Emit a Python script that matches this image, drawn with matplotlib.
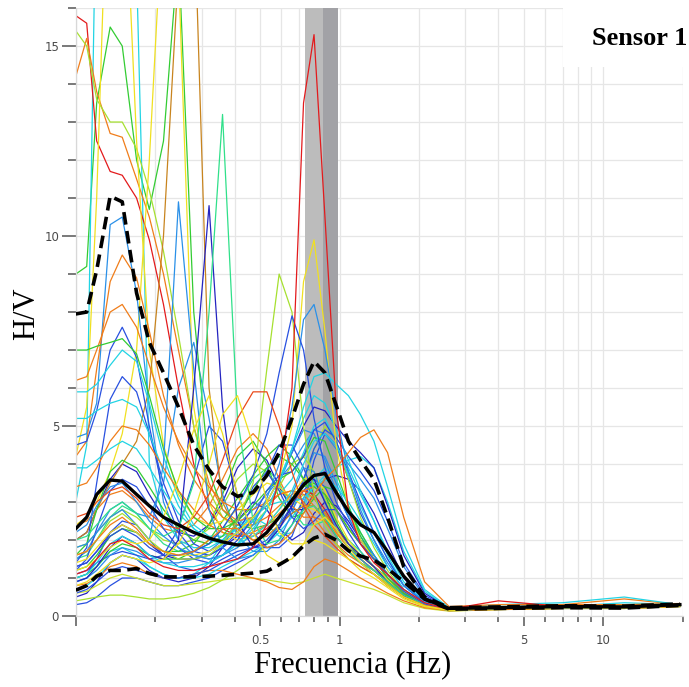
import matplotlib
matplotlib.use("Agg")

import matplotlib.pyplot as plt
from matplotlib.patches import Rectangle
from matplotlib.ticker import FixedLocator, FixedFormatter, NullFormatter

# frequency samples shared by every curve (Hz)
freq_hz = [0.10, 0.11, 0.12, 0.135, 0.15, 0.17, 0.19, 0.215, 0.245, 0.28,
           0.32, 0.36, 0.41, 0.47, 0.53, 0.59, 0.66, 0.73, 0.80, 0.88,
           0.97, 1.08, 1.2, 1.35, 1.52, 1.75, 2.1, 2.6, 4.0, 7.0, 12.0, 19.5]

# average H/V and the +/- one standard deviation curves
hv_mean = [2.3, 2.6, 3.2, 3.58, 3.55, 3.2, 2.9, 2.6, 2.4, 2.2, 2.05, 1.95, 1.87, 1.9, 2.2, 2.6,
           3.05, 3.45, 3.7, 3.75, 3.25, 2.75, 2.4, 2.2, 1.7, 1.05, 0.45, 0.2, 0.22, 0.25, 0.24, 0.3]
hv_upper = [7.95, 8.0, 9.1, 11.05, 10.9, 8.5, 7.2, 6.4, 5.5, 4.5, 3.85, 3.4, 3.15, 3.25, 3.7, 4.3,
            5.2, 6.1, 6.7, 6.4, 5.55, 4.6, 4.1, 3.6, 2.6, 1.3, 0.5, 0.22, 0.24, 0.27, 0.26, 0.32]
hv_lower = [0.68, 0.8, 1.05, 1.2, 1.2, 1.25, 1.12, 1.03, 1.03, 1.03, 1.05, 1.07, 1.1, 1.13, 1.18, 1.35,
            1.55, 1.85, 2.05, 2.15, 2.0, 1.72, 1.58, 1.47, 1.25, 0.9, 0.45, 0.18, 0.2, 0.22, 0.21, 0.28]

# peak frequency band (f0 -/+ sigma)
f0_band_low = [0.737, 0.862]
f0_band_high = [0.862, 0.99]

# individual time windows, low-frequency peaks near 0.13-0.15 Hz
low_windows = [
    [9.0, 9.2, 13.5, 15.5, 15.0, 12.0, 10.7, 12.5, 17.5, 8.0, 3.8, 2.8, 2.4, 2.3, 2.4, 2.6, 3.0, 3.4, 3.5, 3.2, 2.5, 1.9, 1.5, 1.2, 0.9, 0.55, 0.3, 0.17, 0.22, 0.24, 0.24, 0.29],
    [3.0, 4.5, 20.0, 26.0, 25.0, 17.0, 4.0, 2.6, 2.0, 1.8, 1.8, 2.0, 2.3, 2.6, 2.9, 3.2, 3.6, 4.3, 5.0, 5.2, 4.6, 3.7, 2.9, 2.2, 1.5, 0.8, 0.35, 0.18, 0.22, 0.25, 0.25, 0.3],
    [15.8, 15.6, 12.5, 11.7, 11.6, 11.0, 9.9, 8.2, 6.0, 4.0, 2.8, 2.3, 2.1, 2.1, 2.3, 2.6, 3.0, 3.3, 3.2, 2.8, 2.3, 1.9, 1.6, 1.3, 1.0, 0.6, 0.3, 0.18, 0.22, 0.24, 0.23, 0.28],
    [14.2, 15.2, 13.8, 12.7, 12.6, 11.5, 10.5, 9.0, 7.0, 5.0, 3.5, 2.8, 2.5, 2.6, 2.9, 3.2, 3.3, 3.0, 2.6, 2.2, 1.9, 1.6, 1.4, 1.2, 0.9, 0.55, 0.3, 0.17, 0.22, 0.3, 0.45, 0.3],
    [15.4, 15.0, 13.6, 13.0, 13.0, 12.3, 11.2, 9.6, 7.4, 5.0, 3.3, 2.6, 2.3, 2.4, 2.8, 3.4, 4.0, 4.2, 3.8, 3.1, 2.4, 1.9, 1.6, 1.3, 1.0, 0.6, 0.3, 0.17, 0.21, 0.23, 0.23, 0.28],
    [4.2, 5.5, 11.0, 22.0, 21.0, 12.5, 7.0, 4.5, 3.2, 2.6, 2.4, 2.5, 2.8, 3.2, 3.5, 3.4, 3.1, 2.9, 2.8, 2.6, 2.2, 1.8, 1.5, 1.2, 0.9, 0.55, 0.3, 0.17, 0.22, 0.25, 0.26, 0.3],
    [2.4, 2.6, 3.0, 3.8, 4.8, 7.0, 12.0, 19.0, 17.0, 5.5, 3.0, 2.2, 2.0, 2.1, 2.4, 2.8, 3.2, 3.6, 3.7, 3.3, 2.6, 2.0, 1.6, 1.3, 0.95, 0.55, 0.3, 0.17, 0.22, 0.24, 0.24, 0.29],
    [2.0, 2.2, 2.8, 3.5, 4.0, 4.6, 6.0, 10.0, 17.0, 19.0, 6.0, 3.0, 2.2, 2.0, 2.1, 2.4, 2.7, 2.9, 2.9, 2.6, 2.1, 1.7, 1.4, 1.1, 0.85, 0.5, 0.28, 0.16, 0.21, 0.23, 0.23, 0.28],
    [4.7, 4.8, 5.6, 10.3, 10.5, 8.5, 5.5, 3.0, 2.0, 1.6, 1.5, 1.6, 1.8, 2.2, 2.8, 3.5, 4.3, 4.9, 4.8, 4.1, 3.3, 2.6, 2.0, 1.6, 1.1, 0.6, 0.3, 0.16, 0.2, 0.22, 0.22, 0.27],
    [4.2, 4.6, 6.5, 8.8, 9.5, 8.9, 7.5, 5.8, 4.5, 3.6, 3.0, 2.6, 2.4, 2.4, 2.6, 2.9, 3.2, 3.3, 3.1, 2.7, 2.2, 1.8, 1.5, 1.2, 0.9, 0.55, 0.3, 0.17, 0.22, 0.24, 0.24, 0.29],
    [6.2, 6.3, 7.0, 8.0, 8.2, 7.6, 6.6, 5.5, 4.6, 3.9, 3.4, 3.0, 2.8, 2.8, 3.0, 3.2, 3.3, 3.2, 2.9, 2.5, 2.1, 1.7, 1.4, 1.2, 0.9, 0.55, 0.3, 0.17, 0.21, 0.24, 0.24, 0.3],
    [4.5, 4.6, 5.4, 7.0, 7.6, 6.8, 5.0, 3.2, 2.2, 1.7, 1.6, 1.8, 2.2, 2.9, 3.8, 4.5, 4.5, 3.9, 3.2, 2.6, 2.1, 1.7, 1.4, 1.1, 0.8, 0.5, 0.27, 0.15, 0.2, 0.22, 0.22, 0.27],
    [7.0, 7.0, 7.1, 7.2, 7.3, 6.9, 5.8, 4.4, 3.3, 2.6, 2.3, 2.3, 2.5, 2.9, 3.3, 3.6, 3.8, 4.2, 4.7, 4.6, 3.8, 2.9, 2.1, 1.5, 1.0, 0.6, 0.3, 0.17, 0.21, 0.23, 0.24, 0.28],
    [5.9, 5.9, 6.1, 6.6, 7.0, 6.7, 5.6, 4.2, 3.1, 2.4, 2.1, 2.1, 2.3, 2.6, 2.9, 3.0, 3.0, 3.1, 3.4, 3.6, 3.4, 3.0, 2.5, 1.9, 1.3, 0.7, 0.33, 0.18, 0.22, 0.25, 0.35, 0.3],
    [1.4, 1.8, 3.5, 5.7, 6.3, 5.9, 4.8, 3.5, 2.5, 1.9, 1.7, 1.9, 2.5, 3.4, 3.8, 3.3, 2.6, 2.3, 2.5, 2.8, 2.8, 2.4, 1.9, 1.5, 1.1, 0.6, 0.3, 0.16, 0.2, 0.22, 0.22, 0.27],
    [5.2, 5.2, 5.4, 5.6, 5.7, 5.5, 4.8, 3.8, 2.9, 2.3, 2.0, 2.0, 2.2, 2.5, 3.0, 3.6, 4.4, 5.2, 5.8, 5.6, 4.9, 4.1, 3.3, 2.5, 1.6, 0.8, 0.35, 0.18, 0.22, 0.24, 0.24, 0.29],
    [3.4, 3.5, 3.9, 4.6, 5.0, 4.9, 4.5, 3.9, 3.3, 2.8, 2.4, 2.2, 2.1, 2.2, 2.4, 2.7, 3.0, 3.3, 3.4, 3.2, 2.8, 2.3, 1.9, 1.5, 1.1, 0.6, 0.3, 0.17, 0.22, 0.24, 0.24, 0.29],
    [1.6, 1.9, 2.8, 3.8, 4.1, 3.9, 3.4, 2.8, 2.3, 2.0, 1.9, 2.1, 2.6, 3.3, 3.9, 4.2, 4.0, 3.6, 3.4, 3.2, 2.8, 2.3, 1.9, 1.5, 1.1, 0.6, 0.3, 0.16, 0.2, 0.22, 0.22, 0.27],
    [1.2, 1.5, 2.3, 3.3, 3.6, 3.4, 2.9, 2.3, 1.8, 1.5, 1.4, 1.6, 2.0, 2.6, 3.3, 3.7, 3.8, 4.2, 4.9, 5.1, 4.6, 3.8, 3.0, 2.2, 1.5, 0.8, 0.35, 0.17, 0.21, 0.23, 0.22, 0.28],
    [3.9, 3.9, 4.1, 4.4, 4.6, 4.4, 3.9, 3.3, 2.7, 2.3, 2.0, 1.9, 1.9, 2.1, 2.4, 2.8, 3.3, 4.0, 4.6, 4.8, 4.5, 3.9, 3.2, 2.5, 1.7, 0.9, 0.38, 0.18, 0.22, 0.25, 0.26, 0.3],
]
low_colors = ["#33cc33", "#22d4e4", "#e31a1c", "#f07d1a", "#a6e030", "#f0e020", "#f0e020",
              "#c8841e", "#2a90e8", "#f07d1a", "#f07d1a", "#2850e0", "#33cc33", "#22d4e4",
              "#2850e0", "#22d4e4", "#f07d1a", "#33cc33", "#2850e0", "#22d4e4"]

# windows peaking between 0.25 Hz and 1.4 Hz
mid_windows = [
    [1.8, 1.9, 2.2, 2.6, 2.8, 2.4, 2.0, 4.0, 10.9, 6.5, 2.8, 1.8, 1.5, 1.6, 1.9, 2.4, 3.2, 3.9, 3.8, 3.0, 2.3, 1.8, 1.5, 1.2, 0.9, 0.55, 0.3, 0.16, 0.2, 0.22, 0.22, 0.28],
    [0.9, 1.0, 1.3, 1.8, 2.1, 1.9, 1.6, 1.5, 2.0, 6.0, 10.8, 5.5, 2.5, 1.8, 1.9, 2.3, 2.9, 3.5, 3.6, 3.0, 2.4, 1.9, 1.6, 1.3, 0.9, 0.55, 0.3, 0.15, 0.2, 0.22, 0.23, 0.28],
    [2.0, 2.1, 2.4, 2.8, 3.0, 2.7, 2.3, 2.1, 2.3, 3.5, 8.0, 13.2, 5.2, 2.5, 1.9, 2.0, 2.4, 2.8, 2.9, 2.6, 2.1, 1.7, 1.4, 1.2, 0.9, 0.55, 0.3, 0.17, 0.2, 0.22, 0.22, 0.28],
    [1.4, 1.5, 1.8, 2.2, 2.4, 2.2, 1.9, 1.7, 1.6, 1.6, 1.7, 1.9, 2.2, 2.6, 3.0, 3.6, 5.0, 8.8, 9.9, 7.5, 4.5, 2.8, 2.0, 1.5, 1.1, 0.65, 0.32, 0.17, 0.22, 0.26, 0.25, 0.3],
    [1.6, 1.7, 2.0, 2.5, 2.7, 2.4, 2.0, 1.7, 1.5, 1.5, 1.6, 1.9, 2.5, 3.5, 6.5, 9.0, 8.0, 5.0, 3.2, 2.4, 1.9, 1.5, 1.3, 1.1, 0.85, 0.5, 0.28, 0.16, 0.2, 0.23, 0.22, 0.27],
    [2.2, 2.4, 2.9, 3.4, 3.5, 3.0, 2.5, 2.1, 1.8, 1.6, 1.5, 1.6, 1.9, 2.4, 3.1, 4.0, 5.5, 7.8, 8.2, 7.0, 5.3, 3.8, 2.8, 2.0, 1.4, 0.8, 0.4, 0.18, 0.21, 0.23, 0.22, 0.28],
    [1.3, 1.4, 1.7, 2.1, 2.3, 2.1, 1.8, 1.6, 1.6, 1.7, 1.9, 2.3, 2.9, 3.7, 4.8, 6.4, 7.9, 7.0, 5.2, 3.9, 3.0, 2.4, 1.9, 1.5, 1.1, 0.65, 0.32, 0.16, 0.2, 0.22, 0.22, 0.27],
    [1.0, 1.1, 1.4, 1.9, 2.1, 1.9, 1.6, 1.4, 1.3, 1.3, 1.4, 1.6, 1.9, 2.3, 2.8, 3.5, 4.4, 5.5, 6.3, 6.4, 6.1, 5.8, 5.3, 4.6, 3.4, 1.9, 0.7, 0.22, 0.3, 0.35, 0.5, 0.3],
    [1.6, 1.7, 2.0, 2.4, 2.6, 2.3, 1.9, 1.7, 1.6, 1.7, 2.0, 2.3, 2.3, 2.0, 1.8, 1.9, 2.2, 2.7, 3.2, 3.6, 3.9, 4.3, 4.7, 4.9, 4.3, 2.6, 0.9, 0.25, 0.3, 0.3, 0.3, 0.33],
    [2.6, 2.7, 3.0, 3.3, 3.4, 3.1, 2.7, 2.4, 2.3, 2.6, 3.2, 4.1, 5.2, 5.9, 5.9, 5.0, 3.8, 2.9, 2.4, 2.1, 1.8, 1.5, 1.3, 1.1, 0.8, 0.5, 0.28, 0.17, 0.22, 0.24, 0.24, 0.29],
    [0.8, 0.9, 1.1, 1.4, 1.6, 1.5, 1.4, 1.5, 1.9, 2.7, 4.0, 5.3, 5.8, 4.5, 3.0, 2.2, 1.9, 1.9, 2.0, 1.9, 1.7, 1.5, 1.2, 1.0, 0.75, 0.45, 0.25, 0.15, 0.2, 0.22, 0.22, 0.27],
    [1.2, 1.3, 1.5, 1.8, 2.0, 1.9, 2.0, 2.6, 3.6, 4.9, 5.8, 4.8, 3.2, 2.2, 1.6, 1.4, 1.5, 1.9, 2.4, 2.6, 2.3, 1.8, 1.4, 1.1, 0.8, 0.5, 0.27, 0.15, 0.2, 0.22, 0.21, 0.26],
    [1.1, 1.2, 1.5, 1.9, 2.0, 1.8, 1.5, 1.3, 1.2, 1.2, 1.3, 1.4, 1.5, 1.8, 2.4, 3.6, 6.0, 13.5, 15.3, 10.5, 5.5, 2.8, 1.9, 1.4, 1.1, 0.7, 0.35, 0.18, 0.4, 0.25, 0.24, 0.3],
]
mid_colors = ["#2a90e8", "#2424c0", "#30e08a", "#f0e020", "#a6e030", "#2a90e8", "#2850e0",
              "#22d4e4", "#f07d1a", "#ea4a1a", "#f0e020", "#f0e020", "#e31a1c"]

# low-amplitude windows filling the bottom of the plot
flat_windows = [
    [0.3, 0.35, 0.5, 0.8, 1.0, 1.0, 0.9, 0.8, 0.8, 0.9, 1.0, 1.2, 1.4, 1.6, 1.9, 2.3, 2.8, 3.3, 3.6, 3.4, 2.8, 2.2, 1.7, 1.3, 0.9, 0.5, 0.25, 0.14, 0.18, 0.2, 0.2, 0.25],
    [0.4, 0.45, 0.5, 0.55, 0.55, 0.5, 0.45, 0.45, 0.5, 0.6, 0.75, 0.95, 1.2, 1.5, 1.9, 2.4, 2.9, 3.2, 3.1, 2.7, 2.2, 1.8, 1.5, 1.2, 0.9, 0.5, 0.25, 0.14, 0.17, 0.2, 0.2, 0.25],
    [0.5, 0.6, 0.9, 1.4, 1.6, 1.5, 1.2, 1.0, 0.9, 1.0, 1.3, 1.8, 2.5, 3.0, 2.8, 2.3, 2.0, 2.2, 2.7, 3.0, 2.9, 2.5, 2.0, 1.5, 1.0, 0.55, 0.27, 0.15, 0.19, 0.21, 0.21, 0.26],
    [0.9, 1.0, 1.3, 1.7, 1.8, 1.6, 1.3, 1.1, 1.0, 1.1, 1.4, 1.9, 2.4, 2.6, 2.4, 2.1, 2.2, 2.8, 3.6, 3.9, 3.6, 2.9, 2.2, 1.6, 1.1, 0.6, 0.3, 0.16, 0.2, 0.22, 0.22, 0.27],
    [1.0, 1.1, 1.5, 2.2, 2.5, 2.4, 2.0, 1.6, 1.3, 1.2, 1.3, 1.5, 1.7, 1.8, 1.8, 1.8, 2.1, 2.9, 4.1, 4.8, 4.5, 3.6, 2.7, 2.0, 1.3, 0.7, 0.32, 0.16, 0.2, 0.22, 0.22, 0.27],
    [0.6, 0.65, 0.8, 1.0, 1.1, 1.0, 0.9, 0.8, 0.8, 0.85, 0.9, 0.95, 1.0, 1.0, 0.95, 0.9, 0.85, 0.9, 1.0, 1.1, 1.0, 0.9, 0.8, 0.7, 0.55, 0.35, 0.2, 0.13, 0.17, 0.2, 0.2, 0.25],
    [0.8, 0.85, 1.0, 1.3, 1.4, 1.3, 1.1, 1.0, 1.0, 1.1, 1.2, 1.2, 1.1, 1.0, 0.9, 0.75, 0.7, 0.9, 1.3, 1.5, 1.4, 1.2, 1.0, 0.8, 0.6, 0.4, 0.22, 0.14, 0.17, 0.2, 0.2, 0.25],
    [1.5, 1.6, 2.0, 2.6, 2.9, 2.7, 2.3, 1.9, 1.7, 1.7, 1.9, 2.3, 2.9, 3.6, 3.9, 3.5, 2.8, 2.4, 2.4, 2.5, 2.3, 2.0, 1.7, 1.3, 1.0, 0.55, 0.28, 0.15, 0.2, 0.22, 0.22, 0.27],
    [2.0, 2.2, 2.8, 3.6, 4.0, 3.8, 3.2, 2.6, 2.2, 2.1, 2.4, 3.0, 3.9, 4.4, 4.1, 3.4, 2.8, 2.8, 3.2, 3.6, 3.7, 3.6, 3.3, 2.7, 1.9, 1.0, 0.4, 0.18, 0.22, 0.24, 0.24, 0.29],
    [1.2, 1.3, 1.6, 2.1, 2.3, 2.2, 1.9, 1.7, 1.7, 1.9, 2.4, 3.2, 4.2, 4.6, 4.0, 3.1, 2.6, 2.7, 3.1, 3.4, 3.3, 2.8, 2.2, 1.6, 1.1, 0.6, 0.3, 0.16, 0.21, 0.23, 0.22, 0.28],
    [1.8, 1.9, 2.2, 2.6, 2.8, 2.6, 2.3, 2.0, 1.9, 2.0, 2.3, 2.9, 3.6, 4.0, 3.8, 3.3, 3.1, 3.5, 4.4, 5.0, 4.6, 3.6, 2.6, 1.8, 1.2, 0.65, 0.3, 0.16, 0.21, 0.23, 0.23, 0.28],
    [0.7, 0.8, 1.0, 1.4, 1.6, 1.5, 1.3, 1.1, 1.0, 1.0, 1.1, 1.3, 1.5, 1.7, 1.9, 2.2, 2.6, 3.0, 3.4, 3.7, 3.9, 4.1, 4.2, 3.9, 3.0, 1.7, 0.65, 0.2, 0.25, 0.28, 0.3, 0.3],
    [1.1, 1.2, 1.4, 1.6, 1.7, 1.6, 1.5, 1.6, 2.3, 3.6, 5.0, 4.6, 3.2, 2.2, 1.8, 1.9, 2.4, 3.1, 3.7, 3.8, 3.3, 2.6, 2.0, 1.5, 1.0, 0.55, 0.28, 0.15, 0.2, 0.22, 0.22, 0.27],
    [1.5, 1.7, 2.2, 2.8, 3.0, 2.7, 2.6, 3.5, 6.0, 7.2, 5.2, 3.2, 2.1, 1.7, 1.7, 2.0, 2.7, 3.6, 4.3, 4.2, 3.5, 2.7, 2.1, 1.6, 1.1, 0.6, 0.3, 0.16, 0.2, 0.22, 0.22, 0.27],
    [1.3, 1.4, 1.7, 2.2, 2.4, 2.2, 1.9, 1.6, 1.5, 1.5, 1.6, 1.8, 2.1, 2.5, 3.0, 3.6, 4.3, 5.0, 5.5, 5.4, 5.0, 4.6, 4.3, 3.9, 2.9, 1.6, 0.6, 0.2, 0.22, 0.24, 0.24, 0.29],
    [0.9, 1.0, 1.2, 1.6, 1.8, 1.7, 1.5, 1.4, 1.4, 1.5, 1.7, 2.0, 2.4, 2.8, 3.2, 3.6, 4.0, 4.5, 4.9, 4.8, 4.4, 4.0, 3.6, 3.1, 2.3, 1.3, 0.5, 0.18, 0.21, 0.23, 0.23, 0.28],
    [2.4, 2.5, 2.8, 3.2, 3.3, 3.0, 2.6, 2.3, 2.2, 2.4, 2.9, 3.6, 4.4, 4.8, 4.4, 3.6, 2.9, 2.6, 2.6, 2.5, 2.2, 1.8, 1.5, 1.2, 0.9, 0.5, 0.27, 0.16, 0.21, 0.23, 0.23, 0.28],
    [1.0, 1.1, 1.3, 1.7, 1.9, 1.8, 1.6, 1.5, 1.5, 1.7, 2.0, 2.5, 3.1, 3.7, 4.2, 4.5, 4.2, 3.6, 3.1, 2.7, 2.3, 1.9, 1.6, 1.3, 1.0, 0.55, 0.28, 0.15, 0.2, 0.22, 0.22, 0.27],
    [0.6, 0.7, 0.9, 1.2, 1.3, 1.2, 1.1, 1.0, 1.0, 1.1, 1.2, 1.4, 1.6, 1.8, 2.0, 2.4, 2.9, 3.6, 4.4, 4.9, 4.7, 4.2, 3.8, 3.3, 2.5, 1.4, 0.55, 0.18, 0.21, 0.23, 0.23, 0.28],
]
flat_colors = ["#2850e0", "#a6e030", "#2424c0", "#22d4e4", "#2850e0", "#c8e030", "#f07d1a",
               "#30e08a", "#2424c0", "#33cc33", "#a6e030", "#22d4e4", "#2850e0", "#2a90e8",
               "#2424c0", "#2a90e8", "#f07d1a", "#33cc33", "#2850e0"]

x_major = [0.1, 0.5, 1, 5, 10]
x_major_labels = ["", "0.5", "1", "5", "10"]
x_minor = [0.2, 0.3, 0.4, 0.6, 0.7, 0.8, 0.9, 2, 3, 4, 6, 7, 8, 9, 20]
y_major = [0, 5, 10, 15]
y_minor = [1, 2, 3, 4, 6, 7, 8, 9, 11, 12, 13, 14, 16]

fig = plt.figure(figsize=(6.89, 6.87), dpi=100)
ax = fig.add_axes([0.110, 0.1033, 0.881, 0.885])
ax.set_xscale("log")
ax.set_xlim(0.1, 20)
ax.set_ylim(0, 16)

ax.xaxis.set_major_locator(FixedLocator(x_major))
ax.xaxis.set_major_formatter(FixedFormatter(x_major_labels))
ax.xaxis.set_minor_locator(FixedLocator(x_minor))
ax.xaxis.set_minor_formatter(NullFormatter())
ax.yaxis.set_major_locator(FixedLocator(y_major))
ax.yaxis.set_minor_locator(FixedLocator(y_minor))

ax.grid(True, which="both", color="#e6e6e6", linewidth=0.9, zorder=0)
ax.set_axisbelow(True)
for side in ["top", "right"]:
    ax.spines[side].set_visible(False)
for side in ["left", "bottom"]:
    ax.spines[side].set_color("#d8d8d8")
    ax.spines[side].set_linewidth(0.9)

ax.tick_params(axis="both", which="both", direction="out", color="#555555", width=1.1,
               labelcolor="#4a4a4a", labelsize=8.5, pad=2)
ax.tick_params(axis="y", which="major", length=10)
ax.tick_params(axis="y", which="minor", length=5.5)
ax.tick_params(axis="x", which="major", length=7, pad=6)
ax.tick_params(axis="x", which="minor", length=4)

ax.axvspan(*f0_band_low, color="#bcbcbc", linewidth=0, zorder=1)
ax.axvspan(*f0_band_high, color="#a2a2a6", linewidth=0, zorder=1)

# draw windows group by group, black statistics on top
groups = [(flat_windows, flat_colors), (low_windows, low_colors), (mid_windows, mid_colors)]
for rows, colors in groups:
    for hv, c in zip(rows, colors):
        ax.plot(freq_hz, hv, color=c, linewidth=0.9, zorder=2)

ax.plot(freq_hz, hv_mean, color="black", linewidth=2.4, zorder=4)
ax.plot(freq_hz, hv_upper, color="black", linewidth=2.6, dashes=(3.5, 1.8), zorder=4)
ax.plot(freq_hz, hv_lower, color="black", linewidth=2.6, dashes=(3.5, 1.8), zorder=4)

# blank panel behind the sensor title
ax.add_patch(Rectangle((7.05, 14.45), 20 - 7.05, 1.6, facecolor="white",
                       edgecolor="none", zorder=5, clip_on=False))
fig.text(0.997, 0.935, "Sensor 1", ha="right", va="baseline", fontsize=19,
         fontweight="bold", family="Liberation Serif", zorder=6)

fig.text(0.512, 0.022, "Frecuencia (Hz)", ha="center", va="baseline", fontsize=22,
         family="Liberation Serif")
fig.text(0.039, 0.544, "H/V", ha="center", va="center", rotation=90, fontsize=22,
         family="Liberation Serif")

fig.savefig("out.png", dpi=100)
plt.close(fig)
